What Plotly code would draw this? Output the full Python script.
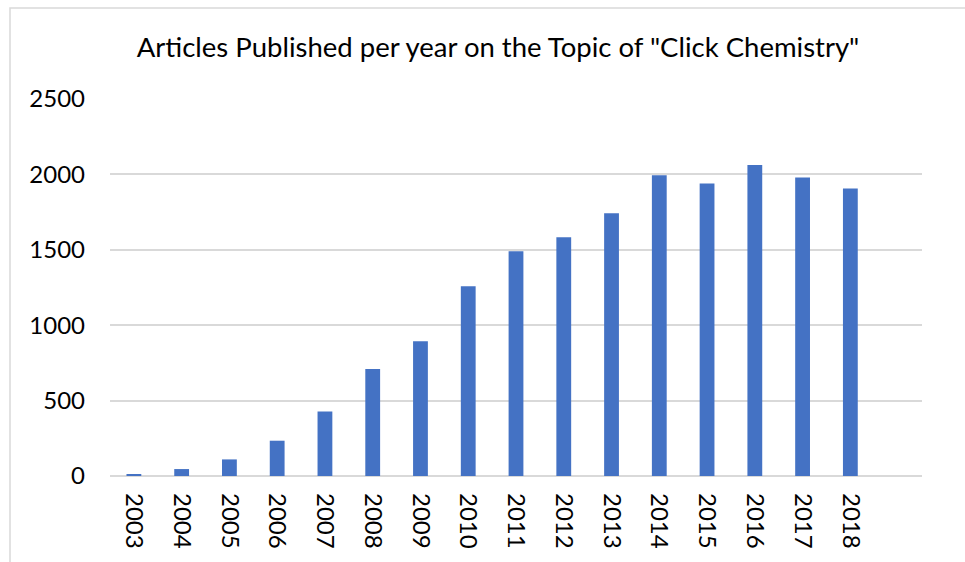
import plotly.graph_objects as go

years = ["2003", "2004", "2005", "2006", "2007", "2008", "2009", "2010",
         "2011", "2012", "2013", "2014", "2015", "2016", "2017", "2018"]
articles = [12, 46, 110, 234, 428, 709, 894, 1258,
            1490, 1583, 1742, 1995, 1940, 2062, 1980, 1907]
y_ticks = [0, 500, 1000, 1500, 2000, 2500]

W, H = 965, 562
L, R, T, B = 110, 43, 99, 86
pw, ph = W - L - R, H - T - B

fig = go.Figure(go.Bar(x=years, y=articles, marker=dict(color="#4472C4", line=dict(width=0))))

font = "Lato, Carlito, Calibri, sans-serif"
fig.update_layout(
    width=W, height=H,
    margin=dict(l=L, r=R, t=T, b=B, autoexpand=False),
    paper_bgcolor="white", plot_bgcolor="white",
    bargap=0.69,
    showlegend=False,
    title=dict(text='Articles Published per year on the Topic of "Click Chemistry"',
               x=498 / W, xanchor="center", xref="container",
               y=1 - 47 / H, yanchor="middle", yref="container",
               font=dict(family=font, size=27.5, color="#000000")),
    font=dict(family=font, color="#000000"),
)
fig.update_xaxes(type="category", range=[-0.5, 16.5], tickangle=90,
                 tickfont=dict(size=24, color="#000000"), showgrid=False,
                 ticks="", ticklabelstandoff=16, showline=False, automargin=False)
fig.update_yaxes(range=[0, 2500], tickvals=y_ticks, showgrid=True, gridcolor="#d9d9d9",
                 gridwidth=1.5, zeroline=True, zerolinecolor="#d9d9d9", zerolinewidth=1.5,
                 tickfont=dict(size=24, color="#000000"), ticks="", ticklabelstandoff=24,
                 showline=False, automargin=False)

# light chart border (left and top edges visible)
fig.add_shape(type="rect", xref="paper", yref="paper",
              x0=(10 - L) / pw, x1=(W + 20 - L) / pw,
              y0=-(B + 20) / ph, y1=(H - B - 8) / ph,
              line=dict(color="#d9d9d9", width=1.5), fillcolor="rgba(0,0,0,0)", layer="below")

fig.write_html("out.html")
